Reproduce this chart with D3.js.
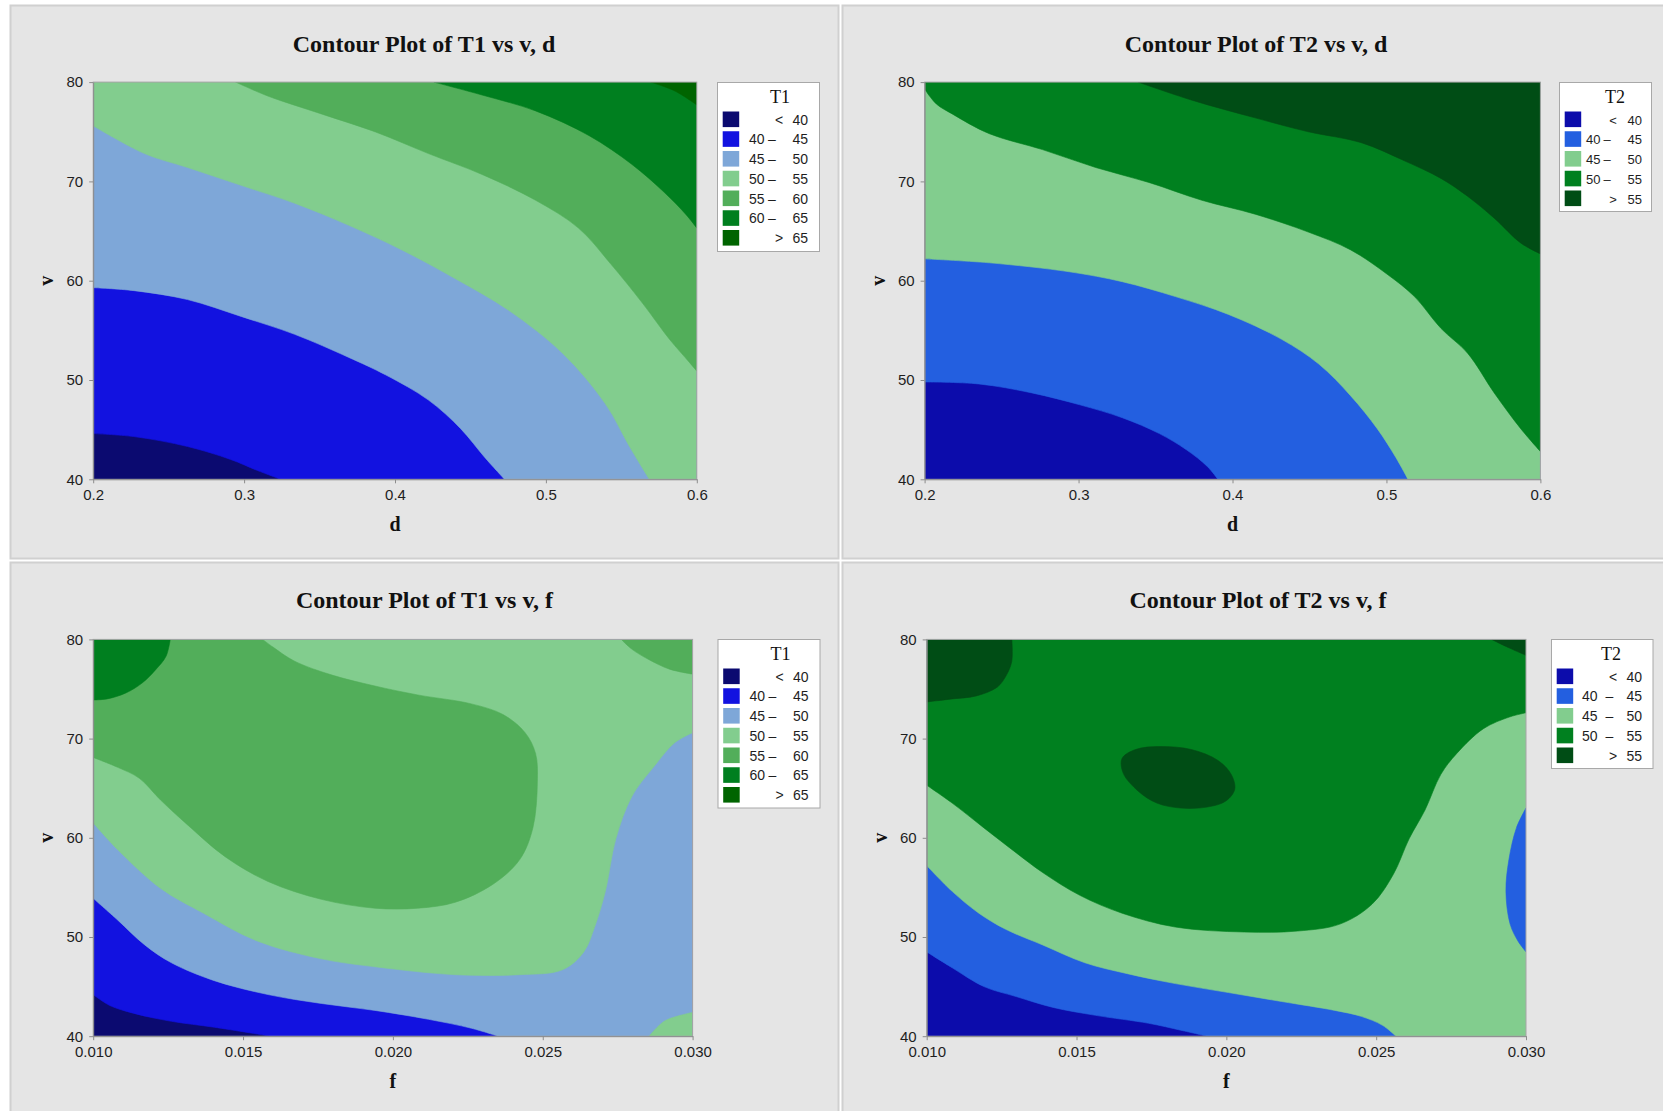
<!DOCTYPE html>
<html>
<head>
<meta charset="utf-8">
<script src="https://cdn.jsdelivr.net/npm/d3@7"></script>
<style>
    body { margin: 0; background: #fff; }
    svg { display: block; }
    .axis text { font-family: "Liberation Sans", Arial, sans-serif; font-size: 15px; fill: #1e1e1e; }
    .axis line, .axis .domain { stroke: #8c8c8c; }
    .title { font-family: "Liberation Serif", "Times New Roman", serif; font-weight: bold; font-size: 24px; fill: #111; }
    .axlabel { font-family: "Liberation Serif", "Times New Roman", serif; font-weight: bold; font-size: 20px; fill: #111; }
    .legtitle { font-family: "Liberation Serif", "Times New Roman", serif; font-size: 18px; fill: #111; }
    .legtext { font-family: "Liberation Sans", Arial, sans-serif; fill: #1e1e1e; }
</style>
</head>
<body>
<svg id="chart" width="1663" height="1111"></svg>
<script>
// tick values
var vTicks = [40, 50, 60, 70, 80];
var dTicks = [0.2, 0.3, 0.4, 0.5, 0.6];
var fTicks = [0.010, 0.015, 0.020, 0.025, 0.030];

// legend labels [left, symbol, right]
var t1Labels = [["", "<", "40"], ["40", "–", "45"], ["45", "–", "50"], ["50", "–", "55"], ["55", "–", "60"], ["60", "–", "65"], ["", ">", "65"]];
var t2Labels = [["", "<", "40"], ["40", "–", "45"], ["45", "–", "50"], ["50", "–", "55"], ["", ">", "55"]];

var t1Colors = ["#0b0a70", "#1212e0", "#7ea7d8", "#82cd8e", "#52ae5a", "#007f1f", "#006400"];
var t2Colors = ["#0c0cab", "#235fe0", "#82cd8e", "#00801f", "#004d15"];

// contour lines, [x, v]
var t1vdC40 = [[0.2,44.6],[0.227,44.3],[0.2625,43.3],[0.291,42.0],[0.3086,40.9],[0.3242,40]];
var t1vdC45 = [[0.2,59.3],[0.227,59.0],[0.2625,58.1],[0.298,56.4],[0.3335,54.6],[0.369,52.3],[0.394,50.5],[0.422,48.0],[0.4435,45.1],[0.4595,42.2],[0.4726,40]];
var t1vdC50 = [[0.2,75.6],[0.234,72.8],[0.2625,71.4],[0.298,69.6],[0.3335,67.8],[0.369,65.6],[0.4045,63.1],[0.44,60.2],[0.4755,57.0],[0.511,52.7],[0.5394,47.6],[0.5554,43.3],[0.5685,40]];
var t1vdC55 = [[0.2944,80],[0.3157,78.6],[0.3512,76.8],[0.3867,75.0],[0.4222,72.8],[0.4577,70.7],[0.4932,68.1],[0.5216,65.3],[0.5429,61.7],[0.5642,57.7],[0.5819,54.1],[0.5944,51.9],[0.6,50.9]];
var t1vdC60 = [[0.4258,80],[0.4577,78.7],[0.4932,77.1],[0.5287,74.6],[0.5571,71.7],[0.5784,68.9],[0.5926,66.7],[0.6,65.3]];
var t1vdC65 = [[0.5695,80],[0.5855,79.1],[0.6,77.7]];

var t2vdC40 = [[0.2,49.8],[0.2352,49.6],[0.2697,48.7],[0.3008,47.5],[0.3284,46.2],[0.3525,44.6],[0.3698,43.0],[0.3836,41.3],[0.3905,40]];
var t2vdC45 = [[0.2,62.2],[0.2421,61.8],[0.2939,60.9],[0.3284,59.9],[0.3629,58.4],[0.3974,56.6],[0.4319,54.1],[0.4561,51.6],[0.4768,48.4],[0.494,45.1],[0.5061,42.2],[0.514,40]];
var t2vdC50 = [[0.2,79.3],[0.2076,77.8],[0.2179,76.8],[0.2421,74.8],[0.2766,73.2],[0.3111,71.4],[0.3456,69.9],[0.3801,68.1],[0.4147,66.7],[0.4492,64.9],[0.4768,63.1],[0.5009,60.6],[0.5182,58.4],[0.5354,55.2],[0.5527,52.7],[0.57,48.7],[0.5872,45.1],[0.6,42.8]];
var t2vdC55 = [[0.3387,80],[0.3732,78.2],[0.4147,76.4],[0.4492,75.0],[0.4837,73.9],[0.5113,72.1],[0.5354,70.3],[0.5527,68.5],[0.57,66.3],[0.5872,63.8],[0.6,62.7]];

var t1vfC40 = [[0.01,44.2],[0.01055,43.1],[0.01136,42.3],[0.01261,41.5],[0.01404,40.9],[0.01592,40]];
var t1vfC45 = [[0.01,53.9],[0.01082,51.7],[0.01172,49.2],[0.01261,47.4],[0.01404,45.6],[0.01583,44.2],[0.01761,43.3],[0.0194,42.6],[0.02119,41.7],[0.02262,40.8],[0.02351,40]];
var t1vfC50 = [[0.01,61.5],[0.01082,58.8],[0.01225,54.9],[0.01368,52.4],[0.01547,49.6],[0.01761,47.8],[0.0194,47.0],[0.02208,46.2],[0.02423,46.2],[0.02566,46.7],[0.02637,48.5],[0.02673,51.0],[0.02709,54.6],[0.02744,59.9],[0.02798,64.2],[0.02869,67.1],[0.02941,69.6],[0.03,70.6]];
var t1vfC50b = [[0.02855,40],[0.02905,41.5],[0.02959,42.1],[0.03,42.4]];
var t1vfC55 = [[0.01,68.1],[0.01082,67.1],[0.01154,66.0],[0.01225,63.8],[0.01315,61.3],[0.0144,58.1],[0.01583,55.6],[0.01761,53.8],[0.0194,52.9],[0.02083,52.9],[0.02208,53.5],[0.02333,55.3],[0.02423,57.8],[0.02467,61.0],[0.02482,65.6],[0.02476,68.5],[0.02441,70.6],[0.02369,72.4],[0.02262,73.5],[0.02083,74.4],[0.0194,75.3],[0.01797,76.4],[0.01672,77.8],[0.01601,79.2],[0.01565,80]];
var t1vfC55b = [[0.02762,80],[0.02798,79.0],[0.02852,78.0],[0.02923,77.0],[0.03,76.5]];
var t1vfC60 = [[0.01257,80],[0.01243,78.3],[0.01207,76.9],[0.01163,75.6],[0.01109,74.6],[0.01046,74.0],[0.01,73.9]];

var t2vfC40 = [[0.01,48.5],[0.01085,46.9],[0.01191,45.0],[0.01298,44.0],[0.01422,42.9],[0.01564,42.1],[0.01741,41.3],[0.01848,40.6],[0.01936,40]];
var t2vfC45 = [[0.01,57.2],[0.01085,54.6],[0.01174,52.4],[0.01262,50.8],[0.01387,49.2],[0.01528,47.4],[0.0167,46.3],[0.0183,45.3],[0.02007,44.4],[0.02184,43.5],[0.02362,42.6],[0.0245,42.0],[0.02521,41.1],[0.02566,40]];
var t2vfC45b = [[0.03,63.0],[0.02968,61.0],[0.02943,57.8],[0.02933,54.6],[0.02947,51.3],[0.02973,49.6],[0.03,48.5]];
var t2vfC50 = [[0.01,65.3],[0.01085,63.5],[0.01191,61.0],[0.01298,58.5],[0.01387,56.5],[0.01511,54.2],[0.01652,52.4],[0.0183,51.0],[0.0206,50.5],[0.02238,50.6],[0.02379,51.3],[0.02486,53.3],[0.02557,56.3],[0.0261,59.9],[0.02663,62.8],[0.02716,66.4],[0.02769,68.5],[0.02858,71.0],[0.02947,72.2],[0.03,72.6]];
var t2vfC55a = [[0.01284,80],[0.01284,77.8],[0.01266,76.4],[0.01236,75.2],[0.01165,74.3],[0.01085,74.0],[0.01,73.7]];
var t2vfC55b = [[0.01652,68.0],[0.01697,68.9],[0.01777,69.2],[0.01883,68.9],[0.01972,67.8],[0.02016,66.4],[0.02028,64.9],[0.01998,63.7],[0.01936,63.1],[0.01847,63.0],[0.01768,63.5],[0.01706,64.7],[0.01656,66.5]];
var t2vfC55c = [[0.02885,80],[0.02947,79.1],[0.03,78.4]];

// filled regions, drawn in order over the lowest band
var panels = [
    {title: "Contour Plot of T1 vs v, d", xName: "d", xTicks: dTicks, xFmt: ".1f", colors: t1Colors, legTitle: "T1", labels: t1Labels,
     regions: [
        {band: 1, line: t1vdC40, edge: ["BR", "TR", "TL"]},
        {band: 2, line: t1vdC45, edge: ["BR", "TR", "TL"]},
        {band: 3, line: t1vdC50, edge: ["BR", "TR", "TL"]},
        {band: 4, line: t1vdC55, edge: ["TR"]},
        {band: 5, line: t1vdC60, edge: ["TR"]},
        {band: 6, line: t1vdC65, edge: ["TR"]}]},
    {title: "Contour Plot of T2 vs v, d", xName: "d", xTicks: dTicks, xFmt: ".1f", colors: t2Colors, legTitle: "T2", labels: t2Labels,
     regions: [
        {band: 1, line: t2vdC40, edge: ["BR", "TR", "TL"]},
        {band: 2, line: t2vdC45, edge: ["BR", "TR", "TL"]},
        {band: 3, line: t2vdC50, edge: ["TR", "TL"]},
        {band: 4, line: t2vdC55, edge: ["TR"]}]},
    {title: "Contour Plot of T1 vs v, f", xName: "f", xTicks: fTicks, xFmt: ".3f", colors: t1Colors, legTitle: "T1", labels: t1Labels,
     regions: [
        {band: 1, line: t1vfC40, edge: ["BR", "TR", "TL"]},
        {band: 2, line: t1vfC45, edge: ["BR", "TR", "TL"]},
        {band: 3, line: t1vfC50, edge: ["TR", "TL"]},
        {band: 3, line: t1vfC50b, edge: ["BR"]},
        {band: 4, line: t1vfC55, edge: ["TL"]},
        {band: 4, line: t1vfC55b, edge: ["TR"]},
        {band: 5, line: t1vfC60, edge: ["TL"]}]},
    {title: "Contour Plot of T2 vs v, f", xName: "f", xTicks: fTicks, xFmt: ".3f", colors: t2Colors, legTitle: "T2", labels: t2Labels,
     regions: [
        {band: 1, line: t2vfC40, edge: ["BR", "TR", "TL"]},
        {band: 2, line: t2vfC45, edge: ["BR", "TR", "TL"]},
        {band: 1, line: t2vfC45b, edge: []},
        {band: 3, line: t2vfC50, edge: ["TR", "TL"]},
        {band: 4, line: t2vfC55a, edge: ["TL"]},
        {band: 4, line: t2vfC55b, closed: true},
        {band: 4, line: t2vfC55c, edge: ["TR"]}]}
];

// page layout (pixels)
var layout = [
    {bg: [10, 5, 828, 553], plot: [93.2, 696.8, 82.1, 479.3], titleX: 424, titleY: 52,
     leg: {x: 717, y: 82, w: 102, h: 169, tx: 63, num: 32, end: 91, dash: 55, font: 14}},
    {bg: [842, 5, 840, 553], plot: [924.6, 1540.4, 82.1, 479.3], titleX: 1256, titleY: 52,
     leg: {x: 1559, y: 82, w: 92, h: 129, tx: 56, num: 27, end: 83, dash: 48, font: 13}},
    {bg: [10, 562, 828, 560], plot: [93.2, 692.6, 639.4, 1036.2], titleX: 424.5, titleY: 608,
     leg: {x: 717.5, y: 639, w: 102, h: 168.5, tx: 63, num: 32, end: 91, dash: 55, font: 14}},
    {bg: [842, 562, 840, 560], plot: [926.7, 1526, 639.4, 1036.2], titleX: 1258, titleY: 608,
     leg: {x: 1551, y: 639, w: 101.5, h: 129, tx: 60, num: 31, end: 91, dash: 58.5, font: 14}}
];

var svg = d3.select("#chart");

function regionPath(r, x, y) {
    var pts = r.line.map(function(p) { return [x(p[0]), y(p[1])]; });
    if (r.closed) return d3.line().curve(d3.curveCatmullRomClosed)(pts);
    var d = d3.line().curve(d3.curveCatmullRom)(pts);
    var xd = x.domain(), yd = y.domain();
    var corners = {BL: [xd[0], yd[0]], BR: [xd[1], yd[0]], TR: [xd[1], yd[1]], TL: [xd[0], yd[1]]};
    r.edge.forEach(function(c) {
        d += "L" + x(corners[c][0]) + "," + y(corners[c][1]);
    });
    return d + "Z";
}

panels.forEach(function(p, i) {
    var L = layout[i];

    svg.append("rect")
        .attr("x", L.bg[0] + 0.5).attr("y", L.bg[1] + 0.5)
        .attr("width", L.bg[2]).attr("height", L.bg[3])
        .attr("fill", "#e5e5e5").attr("stroke", "#d0d0d0").attr("stroke-width", 2);

    var x = d3.scaleLinear().domain([p.xTicks[0], p.xTicks[p.xTicks.length - 1]]).range([L.plot[0], L.plot[1]]);
    var y = d3.scaleLinear().domain([vTicks[0], vTicks[vTicks.length - 1]]).range([L.plot[3], L.plot[2]]);

    svg.append("clipPath").attr("id", "clip" + i)
        .append("rect")
        .attr("x", L.plot[0]).attr("y", L.plot[2])
        .attr("width", L.plot[1] - L.plot[0]).attr("height", L.plot[3] - L.plot[2]);

    var g = svg.append("g").attr("clip-path", "url(#clip" + i + ")");

    g.append("rect")
        .attr("x", L.plot[0]).attr("y", L.plot[2])
        .attr("width", L.plot[1] - L.plot[0]).attr("height", L.plot[3] - L.plot[2])
        .attr("fill", p.colors[0]);

    g.selectAll("path.region")
        .data(p.regions)
        .enter().append("path")
        .attr("class", "region")
        .attr("d", function(r) { return regionPath(r, x, y); })
        .attr("fill", function(r) { return p.colors[r.band]; })
        .attr("stroke", function(r) { return p.colors[r.band]; })
        .attr("stroke-width", 0.6);

    svg.append("rect")
        .attr("x", L.plot[0]).attr("y", L.plot[2])
        .attr("width", L.plot[1] - L.plot[0]).attr("height", L.plot[3] - L.plot[2])
        .attr("fill", "none").attr("stroke", "#a6a6a6").attr("stroke-width", 1);

    svg.append("g")
        .attr("class", "axis")
        .attr("transform", "translate(0," + L.plot[3] + ")")
        .call(d3.axisBottom(x).tickValues(p.xTicks).tickFormat(d3.format(p.xFmt))
            .tickSize(4).tickPadding(6).tickSizeOuter(0));

    svg.append("g")
        .attr("class", "axis")
        .attr("transform", "translate(" + L.plot[0] + ",0)")
        .call(d3.axisLeft(y).tickValues(vTicks).tickFormat(d3.format("d"))
            .tickSize(4).tickPadding(6).tickSizeOuter(0));

    svg.append("text")
        .attr("class", "title")
        .attr("x", L.titleX).attr("y", L.titleY)
        .attr("text-anchor", "middle")
        .text(p.title);

    svg.append("text")
        .attr("class", "axlabel")
        .attr("x", (L.plot[0] + L.plot[1]) / 2).attr("y", L.plot[3] + 52)
        .attr("text-anchor", "middle")
        .text(p.xName);

    var vx = L.plot[0] - 40, vy = (L.plot[2] + L.plot[3]) / 2;
    svg.append("text")
        .attr("class", "axlabel")
        .attr("transform", "translate(" + vx + "," + vy + ") rotate(-90)")
        .attr("text-anchor", "middle")
        .text("v");

    // legend
    var lg = L.leg;
    var leg = svg.append("g").attr("transform", "translate(" + lg.x + "," + lg.y + ")");
    leg.append("rect")
        .attr("x", 0.5).attr("y", 0.5).attr("width", lg.w).attr("height", lg.h)
        .attr("fill", "#fff").attr("stroke", "#a8a8a8");
    leg.append("text")
        .attr("class", "legtitle")
        .attr("x", lg.tx).attr("y", 21)
        .attr("text-anchor", "middle")
        .text(p.legTitle);

    var rows = leg.selectAll("g.row")
        .data(p.labels)
        .enter().append("g")
        .attr("class", "row")
        .attr("transform", function(d, k) { return "translate(0," + (29.5 + k * 19.75) + ")"; });

    rows.append("rect")
        .attr("x", 5.7).attr("width", 16.5).attr("height", 15.6)
        .attr("fill", function(d, k) { return p.colors[k]; });

    rows.append("text")
        .attr("class", "legtext").style("font-size", lg.font + "px")
        .attr("x", lg.num).attr("y", 13)
        .text(function(d) { return d[0]; });

    rows.append("text")
        .attr("class", "legtext").style("font-size", lg.font + "px")
        .attr("x", function(d) { return d[0] ? lg.dash : lg.end - 29; }).attr("y", 13)
        .attr("text-anchor", "middle")
        .text(function(d) { return d[1]; });

    rows.append("text")
        .attr("class", "legtext").style("font-size", lg.font + "px")
        .attr("x", lg.end).attr("y", 13)
        .attr("text-anchor", "end")
        .text(function(d) { return d[2]; });
});
</script>
</body>
</html>
